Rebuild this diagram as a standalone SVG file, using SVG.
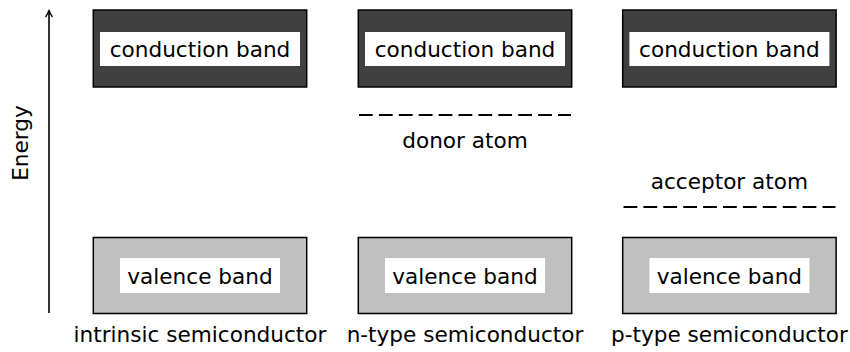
<svg xmlns="http://www.w3.org/2000/svg" width="850" height="352" viewBox="0 0 850 352">
<style>
text{font-family:"DejaVu Sans",sans-serif;font-size:21.6px;fill:#000;text-anchor:middle}
.cb{fill:#404040;stroke:#000;stroke-width:1.5}
.vb{fill:#c0c0c0;stroke:#000;stroke-width:1.5}
.lbl{fill:#fff}
.dash{stroke:#000;stroke-width:1.8;stroke-dasharray:13.8 6.1;fill:none}
</style>
<defs>
<marker id="ah" markerWidth="10" markerHeight="10" refX="7" refY="5" orient="auto" markerUnits="userSpaceOnUse">
<path d="M1,1.5 Q4,4 8,5 Q4,6 1,8.5" fill="none" stroke="#000" stroke-width="1.3"/>
</marker>
</defs>
<g id="connectors">
<line x1="49" y1="313" x2="49" y2="11" stroke="#000" stroke-width="1.6" marker-end="url(#ah)"/>
</g>
<text id="energy" transform="translate(28,143) rotate(-90)">Energy</text>
<g id="intrinsic">
<rect class="cb" x="93.3" y="10" width="213.4" height="77"/>
<rect class="lbl" x="100" y="32" width="200" height="34"/>
<text x="200" y="57">conduction band</text>
<rect class="vb" x="93.3" y="237.5" width="213.4" height="76"/>
<rect class="lbl" x="120" y="258" width="160" height="35"/>
<text x="200" y="284">valence band</text>
<text x="200" y="342">intrinsic semiconductor</text>
</g>
<g id="ntype">
<rect class="cb" x="358.3" y="10" width="213.4" height="77"/>
<rect class="lbl" x="365" y="32" width="200" height="34"/>
<text x="465" y="57">conduction band</text>
<line class="dash" x1="359" y1="115" x2="571" y2="115"/>
<text x="465" y="148">donor atom</text>
<rect class="vb" x="358.3" y="237.5" width="213.4" height="76"/>
<rect class="lbl" x="385" y="258" width="160" height="35"/>
<text x="465" y="284">valence band</text>
<text x="465" y="342">n-type semiconductor</text>
</g>
<g id="ptype">
<rect class="cb" x="622.7" y="10" width="213.4" height="77"/>
<rect class="lbl" x="629.4" y="32" width="200" height="34"/>
<text x="729.4" y="57">conduction band</text>
<text x="729.4" y="189">acceptor atom</text>
<line class="dash" x1="623.5" y1="207" x2="835.5" y2="207"/>
<rect class="vb" x="622.7" y="237.5" width="213.4" height="76"/>
<rect class="lbl" x="649.4" y="258" width="160" height="35"/>
<text x="729.4" y="284">valence band</text>
<text x="729.4" y="342">p-type semiconductor</text>
</g>
</svg>
